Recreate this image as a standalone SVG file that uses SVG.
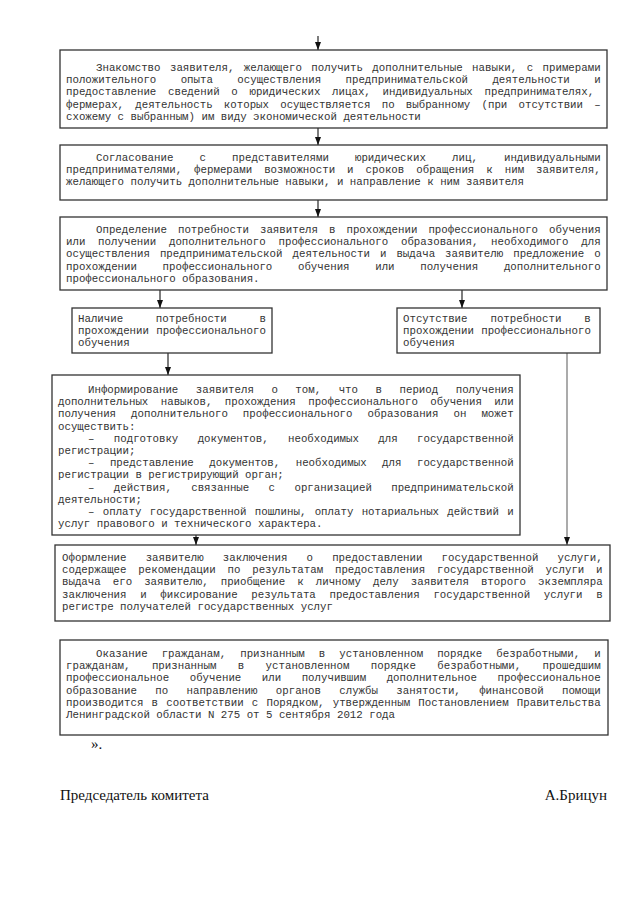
<svg xmlns="http://www.w3.org/2000/svg" width="640" height="905" viewBox="0 0 640 905">
<style>
.b{fill:#fff;stroke:#333;stroke-width:1.3}
.t{font-family:"Liberation Mono","Courier New",monospace;font-size:10.76px;fill:#333}
.c{stroke:#111;stroke-width:1.1;fill:none}
.g{stroke:#666}
.f{font-family:"Liberation Serif","Times New Roman",serif;font-size:15px;fill:#111}
</style>
<defs>
<marker id="ah" markerUnits="userSpaceOnUse" markerWidth="8" markerHeight="8" viewBox="0 0 8 8" refX="8" refY="4" orient="auto">
<path d="M0,1 L8,4 L0,7 Z" fill="#111"/>
</marker>
</defs>
<rect width="640" height="905" fill="#fff"/>
<g id="connectors">
<line class="c" x1="318" y1="36" x2="318" y2="50" marker-end="url(#ah)"/>
<line class="c" x1="318" y1="128" x2="318" y2="145" marker-end="url(#ah)"/>
<line class="c" x1="318" y1="200" x2="318" y2="217" marker-end="url(#ah)"/>
<line class="c" x1="160" y1="290" x2="160" y2="308" marker-end="url(#ah)"/>
<line class="c" x1="462" y1="290" x2="462" y2="308" marker-end="url(#ah)"/>
<line class="c" x1="168" y1="353" x2="168" y2="375" marker-end="url(#ah)"/>
<line class="c g" x1="567" y1="353" x2="567" y2="545" marker-end="url(#ah)"/>
<line class="c" x1="196" y1="535" x2="196" y2="545" marker-end="url(#ah)"/>
</g>
<g id="n1">
<rect class="b" x="60" y="50" width="547" height="78"/>
<text class="t" x="96" y="71" word-spacing="2.97">Знакомство заявителя, желающего получить дополнительные навыки, с примерами</text>
<text class="t" x="66" y="83.2" word-spacing="17.9">положительного опыта осуществления предпринимательской деятельности и</text>
<text class="t" x="66" y="95.4" word-spacing="5.24">предоставление сведений о юридических лицах, индивидуальных предпринимателях,</text>
<text class="t" x="66" y="107.6" word-spacing="4.74">фермерах, деятельность которых осуществляется по выбранному (при отсутствии –</text>
<text class="t" x="66" y="119.8">схожему с выбранным) им виду экономической деятельности</text>
</g>
<g id="n2">
<rect class="b" x="60" y="145" width="547" height="55"/>
<text class="t" x="96" y="161" word-spacing="19.66">Согласование с представителями юридических лиц, индивидуальными</text>
<text class="t" x="66" y="173.2" word-spacing="5.54">предпринимателями, фермерами возможности и сроков обращения к ним заявителя,</text>
<text class="t" x="66" y="185.4">желающего получить дополнительные навыки, и направление к ним заявителя</text>
</g>
<g id="n3">
<rect class="b" x="60" y="217" width="547" height="73"/>
<text class="t" x="96" y="233" word-spacing="4.55">Определение потребности заявителя в прохождении профессионального обучения</text>
<text class="t" x="66" y="245.2" word-spacing="6.32">или получении дополнительного профессионального образования, необходимого для</text>
<text class="t" x="66" y="257.4" word-spacing="3.57">осуществления предпринимательской деятельности и выдача заявителю предложение о</text>
<text class="t" x="66" y="269.6" word-spacing="19.2">прохождении профессионального обучения или получения дополнительного</text>
<text class="t" x="66" y="281.8">профессионального образования.</text>
</g>
<g id="n4a">
<rect class="b" x="72" y="308" width="200" height="45"/>
<text class="t" x="78" y="322" word-spacing="26.2">Наличие потребности в</text>
<text class="t" x="78" y="334.2" word-spacing="0.8">прохождении профессионального</text>
<text class="t" x="78" y="346.4">обучения</text>
</g>
<g id="n4b">
<rect class="b" x="397" y="308" width="203" height="45"/>
<text class="t" x="403" y="322" word-spacing="16.5">Отсутствие потребности в</text>
<text class="t" x="403" y="334.2" word-spacing="0.8">прохождении профессионального</text>
<text class="t" x="403" y="346.4">обучения</text>
</g>
<g id="n5">
<rect class="b" x="52" y="375" width="468" height="160"/>
<text class="t" x="88" y="393" word-spacing="11.06">Информирование заявителя о том, что в период получения</text>
<text class="t" x="58" y="405.2" word-spacing="5.98">дополнительных навыков, прохождения профессионального обучения или</text>
<text class="t" x="58" y="417.4" word-spacing="8.56">получения дополнительного профессионального образования он может</text>
<text class="t" x="58" y="429.6">осуществить:</text>
<text class="t" x="88" y="441.8" word-spacing="12.9">– подготовку документов, необходимых для государственной</text>
<text class="t" x="58" y="454">регистрации;</text>
<text class="t" x="88" y="466.2" word-spacing="9.02">– представление документов, необходимых для государственной</text>
<text class="t" x="58" y="478.4">регистрации в регистрирующий орган;</text>
<text class="t" x="88" y="490.6" word-spacing="12.9">– действия, связанные с организацией предпринимательской</text>
<text class="t" x="58" y="502.8">деятельности;</text>
<text class="t" x="88" y="515" word-spacing="1.83">– оплату государственной пошлины, оплату нотариальных действий и</text>
<text class="t" x="58" y="527.2">услуг правового и технического характера.</text>
</g>
<g id="n6">
<rect class="b" x="55" y="545" width="555" height="76"/>
<text class="t" x="62" y="561" word-spacing="12.7">Оформление заявителю заключения о предоставлении государственной услуги,</text>
<text class="t" x="62" y="573.2" word-spacing="5.34">содержащее рекомендации по результатам предоставления государственной услуги и</text>
<text class="t" x="62" y="585.4" word-spacing="5.59">выдача его заявителю, приобщение к личному делу заявителя второго экземпляра</text>
<text class="t" x="62" y="597.6" word-spacing="7.19">заключения и фиксирование результата предоставления государственной услуги в</text>
<text class="t" x="62" y="609.8">регистре получателей государственных услуг</text>
</g>
<g id="n7">
<rect class="b" x="60" y="640" width="548" height="95"/>
<text class="t" x="96" y="657" word-spacing="7.59">Оказание гражданам, признанным в установленном порядке безработными, и</text>
<text class="t" x="66" y="669.2" word-spacing="14.92">гражданам, признанным в установленном порядке безработными, прошедшим</text>
<text class="t" x="66" y="681.4" word-spacing="14.04">профессиональное обучение или получившим дополнительное профессиональное</text>
<text class="t" x="66" y="693.6" word-spacing="11.87">образование по направлению органов службы занятости, финансовой помощи</text>
<text class="t" x="66" y="705.8" word-spacing="1.73">производится в соответствии с Порядком, утвержденным Постановлением Правительства</text>
<text class="t" x="66" y="718">Ленинградской области N 275 от 5 сентября 2012 года</text>
</g>
<g id="footer">
<text class="f" x="91" y="749" font-size="13">».</text>
<text class="f" x="60" y="800">Председатель комитета</text>
<text class="f" x="607" y="800" text-anchor="end">А.Брицун</text>
</g>
</svg>
